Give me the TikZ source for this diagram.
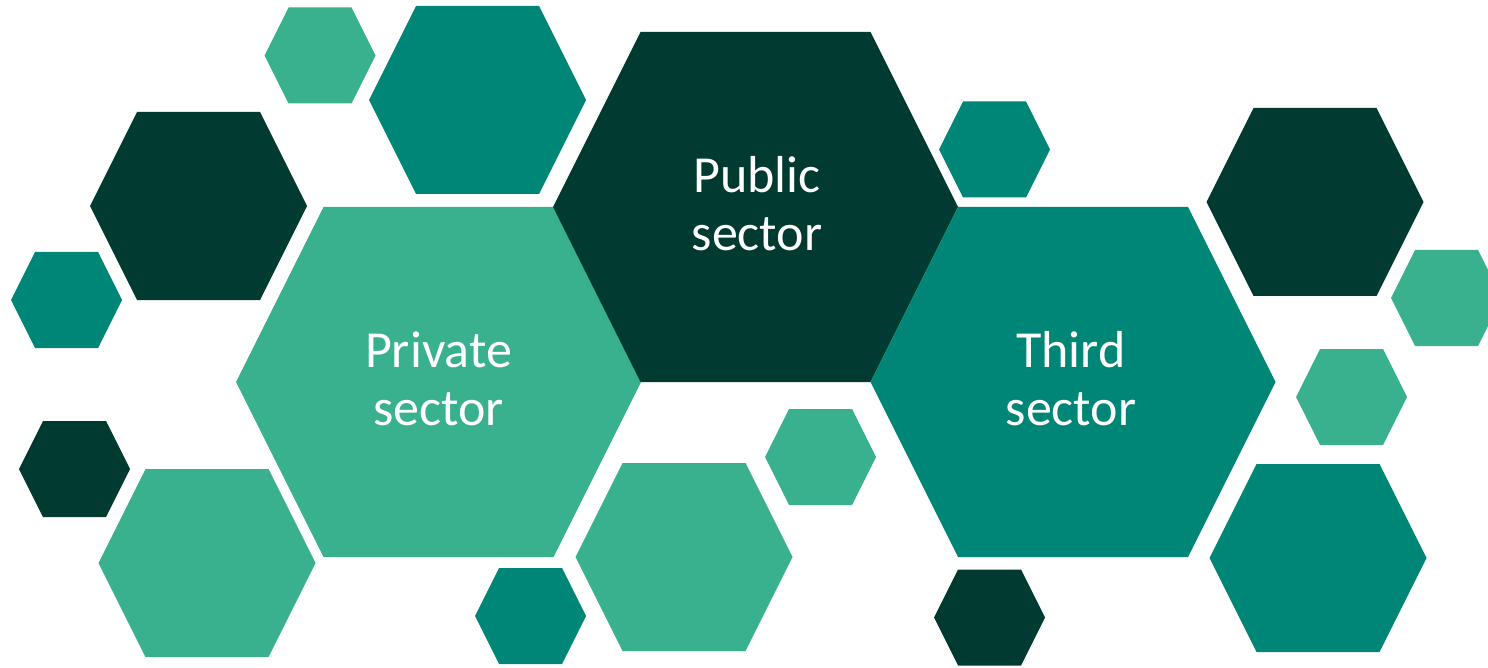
\documentclass[tikz,border=0pt]{standalone}
\usepackage{fontspec}
\setmainfont{Carlito}
\definecolor{hexlight}{RGB}{57,177,142}
\definecolor{hexteal}{RGB}{0,134,118}
\definecolor{hexdark}{RGB}{0,58,49}
\begin{document}
\begin{tikzpicture}[x=1pt,y=-1pt,
  every node/.style={text=white,align=center,font=\fontsize{52}{58}\selectfont}]
\useasboundingbox (0,0) rectangle (1488,668);
\clip (0,0) rectangle (1488,668);
% centre x/y, width/height, colour
\foreach \cx/\cy/\w/\h/\col in {
  438.5/382/405/350/hexlight, 755.5/207/405/350/hexdark, 1073/382/405/350/hexteal,
  477.5/100/217/188/hexteal, 198.5/206/217/188/hexdark, 207/563/217/188/hexlight,
  684/557/217/188/hexlight, 1315/202/217/188/hexdark, 1318/558/217/188/hexteal,
  320/55.5/111/96/hexlight, 66.5/300/111/96/hexteal, 74.5/469/111/96/hexdark,
  530.5/616/111/96/hexteal, 820.5/457/111/96/hexlight, 994.5/149.5/111/96/hexteal,
  989.5/617.5/111/96/hexdark, 1446.5/298/111/96/hexlight, 1351.5/397/111/96/hexlight}
  \fill[\col] ({\cx-\w/2},\cy) -- ({\cx-\w/2+\h/4},{\cy-\h/2}) -- ({\cx+\w/2-\h/4},{\cy-\h/2})
    -- ({\cx+\w/2},\cy) -- ({\cx+\w/2-\h/4},{\cy+\h/2}) -- ({\cx-\w/2+\h/4},{\cy+\h/2}) -- cycle;
\node (PrivateSector) at (438.5,379) {Private\\sector};
\node (PublicSector) at (757,204) {Public\\sector};
\node (ThirdSector) at (1071,379) {Third\\sector};
\end{tikzpicture}
\end{document}
